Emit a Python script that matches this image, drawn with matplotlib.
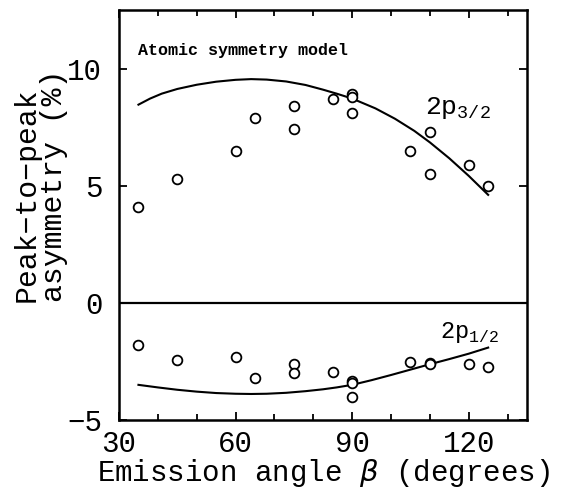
import numpy as np
import matplotlib
matplotlib.use("Agg")
import matplotlib.pyplot as plt
from matplotlib.ticker import MultipleLocator

plt.rcParams['font.family'] = ['Liberation Mono', 'DejaVu Sans']
plt.rcParams['mathtext.fontset'] = 'dejavusans'

# measured points, 2p3/2
ang_32 = [35, 45, 60, 65, 75, 75, 85, 90, 90, 90, 105, 110, 110, 120, 125]
asym_32 = [4.1, 5.3, 6.5, 7.9, 8.4, 7.4, 8.7, 8.9, 8.8, 8.1, 6.5, 7.3, 5.5, 5.9, 5.0]

# measured points, 2p1/2
ang_12 = [35, 45, 60, 65, 75, 75, 85, 90, 90, 90, 105, 110, 110, 120, 125]
asym_12 = [-1.82, -2.42, -2.31, -3.22, -2.6, -2.98, -2.94, -3.32, -3.4, -4.0, -2.52, -2.56, -2.62, -2.62, -2.75]

# atomic symmetry model curves
model_ang_32 = [35, 38, 41, 45, 50, 55, 60, 64, 68, 73, 78, 82.5, 86, 90, 96, 101, 106, 110, 115, 120, 125]
model_32 = [8.46, 8.72, 8.93, 9.13, 9.31, 9.44, 9.52, 9.55, 9.53, 9.45, 9.3, 9.1, 8.93, 8.72, 8.3, 7.86, 7.34, 6.85, 6.17, 5.42, 4.61]
model_ang_12 = [35, 40, 45, 50, 55, 60, 64, 68, 73, 78, 82.5, 86, 90, 95, 100, 105, 110, 115, 120, 125]
model_12 = [-3.5, -3.61, -3.71, -3.79, -3.85, -3.88, -3.89, -3.88, -3.84, -3.77, -3.69, -3.61, -3.5, -3.3, -3.08, -2.85, -2.62, -2.4, -2.17, -1.91]

fig = plt.figure(figsize=(5.63, 4.93), dpi=100)
ax = fig.add_axes([0.2114, 0.1481, 0.7247, 0.8316])

ax.plot(model_ang_32, model_32, color='black', lw=1.5)
ax.plot(model_ang_12, model_12, color='black', lw=1.5)
ax.plot(ang_32, asym_32, 'o', mfc='white', mec='black', ms=7, mew=1.3)
ax.plot(ang_12, asym_12, 'o', mfc='white', mec='black', ms=7, mew=1.3)
ax.axhline(0, color='black', lw=1.6)

ax.set_xlim(30, 135)
ax.set_ylim(-5, 12.5)
ax.set_xticks([30, 60, 90, 120])
ax.set_yticks([-5, 0, 5, 10])
ax.xaxis.set_minor_locator(MultipleLocator(10))
ax.tick_params(which='both', direction='in', top=True, right=True, width=1.3)
ax.tick_params(which='major', length=6, labelsize=21)
ax.tick_params(which='minor', length=4.5)
ax.tick_params(axis='x', which='major', pad=7)
ax.tick_params(axis='y', which='major', pad=12)
for s in ax.spines.values():
    s.set_linewidth(1.8)

fig.text(0.574, 0.024, 'Emission angle $\\beta$ (degrees)', fontsize=21,
         ha='center', va='baseline')
fig.text(0.072, 0.387, 'Peak\u2212to\u2212peak\nasymmetry (%)', rotation=90,
         ha='center', va='bottom', multialignment='left', fontsize=21.5,
         linespacing=0.95)

ax.text(34.9, 10.77, 'Atomic symmetry model', fontsize=12, fontweight='bold',
        va='center', ha='left')
ax.text(108.7, 8.08, '2p$_{\\mathregular{3/2}}$', fontsize=19, va='baseline', ha='left')
ax.text(112.5, -1.48, '2p$_{\\mathregular{1/2}}$', fontsize=17, va='baseline', ha='left')

fig.savefig('out.png', dpi=100)
